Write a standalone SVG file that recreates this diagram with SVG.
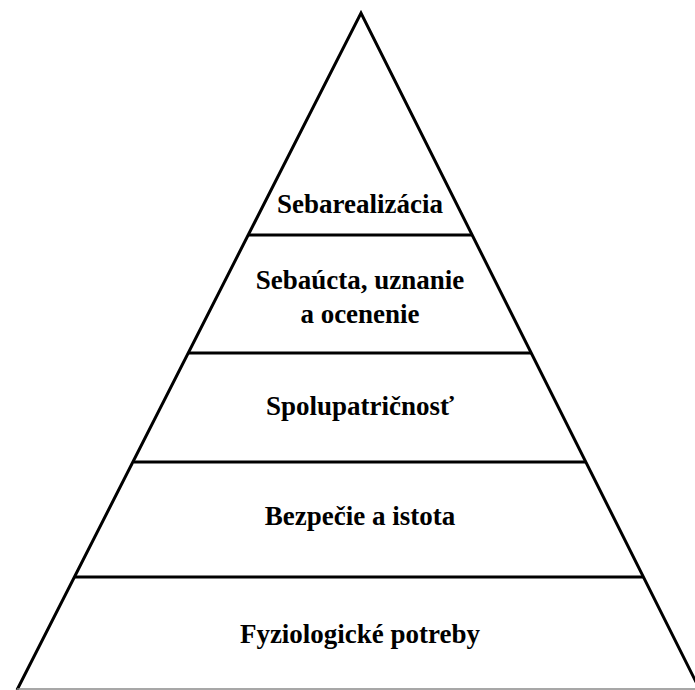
<svg xmlns="http://www.w3.org/2000/svg" width="695" height="690" viewBox="0 0 695 690">
<style>
.leg{stroke:#000;stroke-width:3;fill:none;stroke-linejoin:miter}
.bar{stroke:#000;stroke-width:3}
.base{stroke:#8a8a8a;stroke-width:1.5}
.t{font-family:"Liberation Serif","Times New Roman",serif;font-weight:bold;font-size:27px;fill:#000;text-anchor:middle}
</style>
<rect width="695" height="690" fill="#fff"/>
<g id="connectors">
<polyline class="leg" points="17,690 361,13 700,690"/>
<line class="base" x1="17" y1="689" x2="695" y2="689"/>
<line class="bar" x1="249" y1="235" x2="472" y2="235"/>
<line class="bar" x1="189" y1="353" x2="531" y2="353"/>
<line class="bar" x1="134" y1="462" x2="585" y2="462"/>
<line class="bar" x1="75" y1="577" x2="644" y2="577"/>
</g>
<g id="level5"><text class="t" x="360" y="213">Sebarealizácia</text></g>
<g id="level4"><text class="t" x="360" y="289">Sebaúcta, uznanie</text><text class="t" x="360" y="323">a ocenenie</text></g>
<g id="level3"><text class="t" x="360" y="415">Spolupatričnosť</text></g>
<g id="level2"><text class="t" x="360" y="525">Bezpečie a istota</text></g>
<g id="level1"><text class="t" x="360" y="643">Fyziologické potreby</text></g>
</svg>
